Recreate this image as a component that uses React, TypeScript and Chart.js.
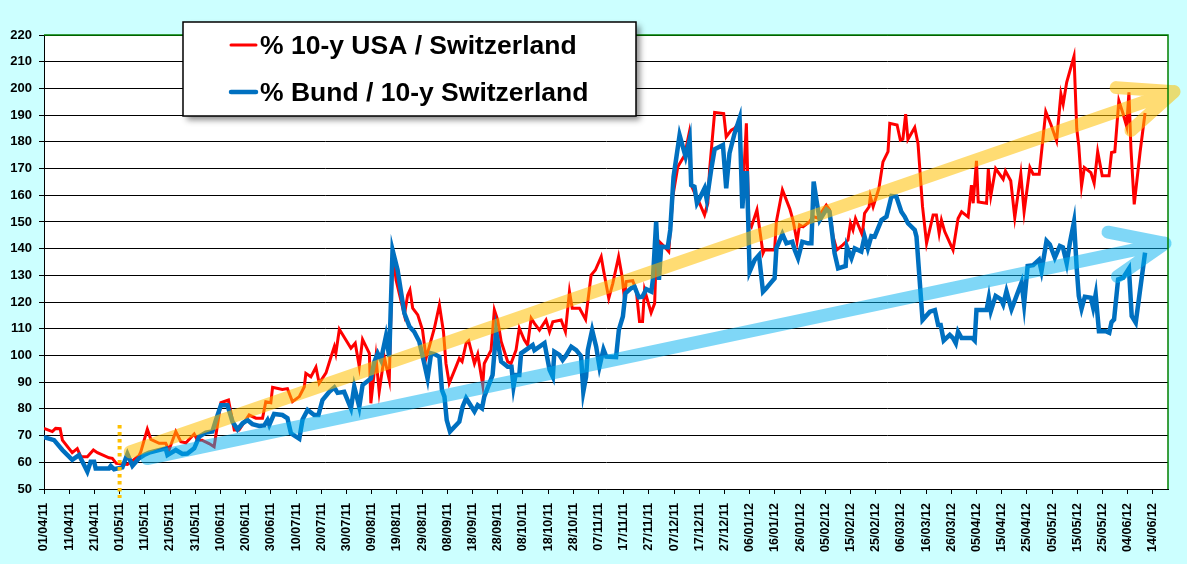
import { Chart, registerables } from "chart.js"
import React, { useEffect, useRef } from "react"

Chart.register(...registerables)

const seriesNames = ["% 10-y USA / Switzerland", "% Bund / 10-y Switzerland"]
const seriesColors = ["#ff0000", "#0070c0"]

// one label every 10 days, the axis runs on days counted from 01/04/11
const tickLabels = [
  "01/04/11", "11/04/11", "21/04/11", "01/05/11", "11/05/11", "21/05/11", "31/05/11", "10/06/11",
  "20/06/11", "30/06/11", "10/07/11", "20/07/11", "30/07/11", "09/08/11", "19/08/11", "29/08/11",
  "08/09/11", "18/09/11", "28/09/11", "08/10/11", "18/10/11", "28/10/11", "07/11/11", "17/11/11",
  "27/11/11", "07/12/11", "17/12/11", "27/12/11", "06/01/12", "16/01/12", "26/01/12", "05/02/12",
  "15/02/12", "25/02/12", "06/03/12", "16/03/12", "26/03/12", "05/04/12", "15/04/12", "25/04/12",
  "05/05/12", "15/05/12", "25/05/12", "04/06/12", "14/06/12",
]

// [day, spread in bp]
const usaSpread: [number, number][] = [
  [0, 72.7], [3.3, 71.5], [4.6, 72.7], [6.4, 72.6], [7.3, 68.3], [11.2, 63.6], [13.2, 65.1], [14.6, 62.1],
  [17.2, 62.1], [19.6, 64.6], [21.2, 63.6], [25.8, 61.7], [27.1, 61.5], [28.7, 59.6], [33.1, 59.2], [35, 60.5],
  [37.7, 62.5], [38.4, 63.9], [41, 72.4], [42.4, 68.6], [45.7, 67.1], [48.3, 67.1], [49.6, 64.6], [52.3, 71.5],
  [54.3, 67.7], [56.3, 67.3], [59.6, 70.6], [60.9, 68.3], [62.7, 68.3], [65.5, 67], [67.5, 65.8], [70.2, 82.3],
  [73.2, 83.3], [75.5, 72.1], [77.4, 72.1], [81.4, 77.7], [84.1, 76.5], [86.7, 76.5], [88, 82.7], [90, 82.3],
  [90.7, 88.1], [94.6, 87.3], [96.6, 87.6], [98.6, 82.7], [101.3, 84.6], [103.3, 88.3], [103.9, 93.3], [105.9, 92],
  [107.9, 95.6], [109.2, 89.6], [111.9, 93.5], [113.9, 99.5], [115.2, 103.3], [115.8, 100.8], [117.2, 109.8],
  [119.8, 105.8], [121.8, 102.7], [123.5, 104.6], [125.1, 95.8], [126.4, 106], [129.1, 100.8], [129.7, 82.1],
  [131.7, 99.5], [133, 86.4], [135, 99.5], [137, 90.8], [138.3, 139.5], [139.7, 128.3], [143, 115.2],
  [144.3, 122.6], [145.2, 124.5], [146.3, 117.7], [148.3, 115.2], [150.2, 109.5], [151.6, 99], [152.9, 103.3],
  [154.9, 110.2], [156.9, 118.9], [158.5, 108.9], [159.5, 97], [160.8, 89.6], [163.5, 95.8], [164.8, 98.9],
  [165.9, 97.7], [167.5, 104.6], [168.5, 105.5], [170.8, 97], [172.1, 100.5], [174.1, 88.9], [174.7, 97],
  [177.4, 102], [178.7, 117], [180, 113.3], [181.4, 105.2], [184, 97.7], [185.3, 97], [187.3, 102], [188.6, 110.2],
  [190.6, 105.8], [191.9, 103.9], [193.3, 113.9], [194.6, 112], [196.6, 109.5], [199.2, 113.3], [200.6, 108.9],
  [201.9, 112.6], [205.2, 113.3], [206.9, 108.9], [208.5, 123.9], [209.6, 117.7], [212.5, 117.7], [214.9, 113.5],
  [217.1, 130.1], [218.8, 132], [221.1, 137], [222, 132], [224.1, 121.4], [225.7, 127], [228, 137], [229.4, 129.5],
  [230.3, 121.4], [231, 127.7], [233.6, 128], [235, 124.5], [236.3, 112.7], [237.5, 112.7], [238.3, 124.5],
  [240.9, 116], [242.3, 119.5], [242.9, 136.4], [244.2, 142.6], [246.2, 140.7], [247.9, 138.9], [249.5, 159.5],
  [251.5, 170.7], [254.2, 175], [255.9, 182.8], [256.8, 163.8], [258.8, 159.5], [260.1, 157], [262.1, 152.6],
  [263.4, 157], [264.1, 169.4], [266.1, 191], [269.7, 190.6], [270.7, 181.9], [272.7, 184.4], [274, 185],
  [276, 187.5], [277.1, 157], [278.7, 186.9], [279.7, 149.5], [280.7, 148.2], [282.9, 154.5], [285.3, 138.3],
  [285.9, 139.5], [289.9, 139.5], [290.6, 150.1], [293, 162], [295.9, 155], [297.2, 150.7], [298.8, 142.6],
  [299.8, 148.9], [301.2, 148.2], [303.8, 150.1], [305.1, 152], [307, 151.5], [310.4, 156.3], [311.7, 154.5],
  [313.1, 144.5], [314.6, 139.5], [317, 141.4], [319, 143.2], [320, 149.5], [321, 147], [322, 151.3],
  [324.7, 145.1], [325.6, 153.2], [327.4, 155.7], [327.9, 159.5], [329, 155.7], [331.3, 162.6], [332.9, 172.5],
  [334.9, 176.3], [335.6, 186.9], [338.5, 186.3], [339.8, 180.6], [340.8, 181], [341.9, 190.4], [342.8, 180.9],
  [345.5, 185.4], [346.8, 179.4], [348.6, 155.7], [350.2, 142], [352.8, 152.6], [354.1, 152.6], [355.2, 145.7],
  [356.1, 150.7], [357.4, 146.4], [360.7, 139.5], [362.7, 151.3], [364.1, 153.8], [366.7, 151.9], [368, 163.8],
  [368.7, 157], [370, 172.9], [370.7, 157.5], [374, 157], [374.7, 169.8], [375.7, 159.8], [377.6, 170],
  [380.6, 166], [381.5, 169.1], [383.6, 165.4], [385.2, 151.6], [387.6, 167.9], [388.9, 153.8], [391.2, 170.4],
  [392.5, 167.9], [394.9, 167.9], [397.5, 191.3], [399.5, 186.6], [401.8, 180.4], [403.5, 197.9], [404.4, 194.1],
  [405.8, 202.3], [408.7, 212], [409.8, 184.8], [410.6, 178.5], [411.7, 163.5], [412.8, 170.4], [415.4, 168.5],
  [416.7, 164.5], [418.1, 176.3], [419.9, 167.3], [422.6, 167.3], [423.6, 176], [424.9, 176.3], [426.5, 195.4],
  [428.2, 190.4], [429.6, 185.8], [430.5, 198.5], [431.3, 177.3], [432.6, 156.6], [434.9, 176], [436.9, 190.8],
]

const bundSpread: [number, number][] = [
  [0, 69.4], [4, 68.3], [7.3, 64.6], [11.2, 60.9], [13.9, 62.7], [15.9, 59], [17.2, 56.5], [18.5, 60.2],
  [19.9, 60.2], [20.5, 57.7], [25.8, 57.7], [26.5, 58.6], [27.8, 57.4], [31.1, 58.1], [33.1, 63.1], [35.1, 58.7],
  [37.7, 61.5], [39.7, 62.7], [41.7, 63.6], [48.3, 65.2], [49, 62.7], [52.3, 64.6], [54.9, 63.1], [56.9, 63.3],
  [59.6, 65.2], [61.6, 69.6], [64.2, 71.1], [66.8, 71.5], [68.2, 75.8], [70.2, 81.4], [72.8, 81.4], [74.8, 75.2],
  [76.8, 72.3], [78.8, 74.6], [80.7, 75.8], [82.7, 74.3], [85.4, 73.6], [87.4, 73.8], [88.7, 75.8], [89.4, 74],
  [91.3, 78.1], [94.6, 77.7], [96.6, 76.5], [98, 70.8], [101.3, 68.8], [102.6, 76], [104.6, 79.6], [107.2, 77.7],
  [108.9, 77.7], [110.5, 83.3], [113.2, 86.4], [115.2, 88], [116.5, 86], [119.1, 86.4], [121.8, 80.2],
  [123.1, 88.3], [125.1, 80.8], [126.4, 88.9], [129.7, 91.4], [131.1, 97.7], [132.4, 100.8], [133.7, 98.3],
  [135.7, 107.3], [137, 99.5], [138.3, 139.5], [140.3, 132], [143, 115.8], [145, 110.8], [146.9, 108.9],
  [148.9, 105.2], [150.9, 97], [152.2, 91.4], [153.6, 100.8], [154.9, 100.5], [156.9, 99.5], [157.9, 87.1],
  [158.9, 84.6], [159.8, 75.8], [161.1, 71.5], [164.8, 75.2], [166.1, 80.8], [167.5, 84], [170.8, 79],
  [172.1, 81.4], [173.8, 80.2], [174.7, 84.6], [178, 92.7], [179.4, 108.9], [181.4, 97.7], [184, 95.8],
  [185.5, 95.8], [186.3, 88.3], [187.1, 92.7], [188.6, 92.7], [189.3, 100.8], [193.9, 103.9], [194.6, 102],
  [198.6, 104.6], [200.6, 94.6], [201.9, 92], [202.5, 101.4], [204.5, 100.2], [205.8, 98.3], [207.3, 100.2],
  [209.2, 103.3], [211.2, 102], [213.1, 99.8], [214, 86.4], [215.1, 92], [215.8, 102], [217.5, 109.5],
  [219.1, 103.3], [220.4, 95.8], [222, 102.3], [223.1, 99.6], [227, 99.4], [228.1, 109.6], [229.7, 114.6],
  [230.7, 123.3], [233, 125.2], [234.3, 125.8], [236, 121.8], [237.4, 122], [239, 124.8], [241, 123.9],
  [241.6, 128.3], [242.9, 150.1], [244, 128.3], [244.9, 140.7], [247.5, 140.5], [248.5, 147], [249.8, 166.9],
  [252.2, 182.5], [254.6, 174.4], [256.2, 180.9], [256.8, 163.8], [258.1, 163.2], [259.1, 157], [260.1, 158.8],
  [262.1, 162.6], [263, 158.2], [264.8, 170], [266.1, 177.2], [269.4, 178.8], [270.7, 162.6], [272, 175.7],
  [274, 183.1], [276, 188.8], [277.1, 155.1], [278, 168.2], [278.9, 168.2], [280, 131.4], [282, 135.8],
  [283.7, 137.6], [285.3, 123.9], [286.6, 125.2], [288.2, 127], [289.9, 128.9], [290.6, 140.1], [293, 145.5],
  [294.6, 142], [296.9, 142.6], [297.9, 139.5], [299.2, 136.4], [300.9, 142.6], [303.1, 142], [304.5, 142],
  [305.4, 165.1], [306.5, 158.2], [307.8, 150.7], [310.4, 154.7], [311.7, 153.8], [313.7, 138.3], [315.1, 132.6],
  [318.1, 133.5], [318.6, 140.7], [320.4, 136.4], [321.7, 140.1], [324.3, 138.9], [325.6, 144.5], [326.9, 140.1],
  [328.3, 144.7], [329.6, 144.5], [332.3, 150.7], [334.3, 152], [336.3, 159.7], [338.2, 159.5], [340.2, 153.8],
  [341.5, 152], [342.8, 149.5], [345.5, 147], [346.2, 144.5], [348.6, 113.3], [351.5, 116.4], [353.5, 117],
  [354.8, 111.4], [355.8, 111.4], [357, 105.6], [359.4, 107.7], [360.7, 106.5], [361.8, 104.6], [362.7, 108.9],
  [364.1, 106.5], [368.4, 106.5], [369.3, 105.6], [370, 117], [374, 117], [374.9, 121.6], [375.7, 116.6],
  [377.6, 122.3], [379.7, 121], [380.6, 119.1], [381.9, 124.1], [383.9, 117.3], [385.9, 122.3], [387.9, 127.3],
  [388.9, 119.1], [390.3, 133.5], [392.5, 133.8], [394.8, 135.8], [395.8, 131.6], [397.8, 142.9], [399.1, 141.6],
  [401.1, 136.6], [403.1, 141], [404.3, 140.5], [405.8, 134.5], [407.1, 142.3], [408.7, 150], [409.8, 132.3],
  [410.6, 122.3], [411.7, 117.5], [413, 122], [415.4, 121.6], [416.3, 117.9], [417.3, 122.9], [418.6, 109.1],
  [421.3, 109.1], [422.7, 108.5], [423.6, 112.5], [424.6, 113.5], [426.2, 128.5], [428.2, 129.1], [430.5, 132.5],
  [431.6, 114.8], [433.2, 112.3], [436.9, 138.5],
]

// trend arrows, [day, value] from -> to
const trendArrows = [
  { from: [34.2, 63.9], to: [448.4, 198.8], color: "rgba(255,192,0,0.55)" },
  { from: [40.9, 61.4], to: [444.8, 142], color: "rgba(0,176,240,0.5)" },
]
const markerDay = 30
const markerTop = 74

const dayOf = (label: string) => {
  const [d, m, y] = label.split("/").map(Number)
  return Math.round((Date.UTC(2000 + y, m - 1, d) - Date.UTC(2011, 3, 1)) / 86400000)
}
const labelByDay = new Map(tickLabels.map((l) => [dayOf(l), l]))

const font = "Arial, 'Liberation Sans', sans-serif"

const decorPlugin = {
  id: "decor",
  beforeDraw(chart: any) {
    const { ctx, chartArea: a } = chart
    ctx.save()
    ctx.fillStyle = "#ffffff"
    ctx.fillRect(a.left, a.top, a.right - a.left, a.bottom - a.top)
    ctx.restore()
  },
  afterDatasetsDraw(chart: any) {
    const { ctx, chartArea: a } = chart
    const xs = chart.scales.x
    const ys = chart.scales.y
    ctx.save()
    // dotted marker
    const mx = xs.getPixelForValue(markerDay)
    ctx.strokeStyle = "#ffc000"
    ctx.lineWidth = 4
    ctx.setLineDash([3.5, 3.5])
    ctx.beginPath()
    ctx.moveTo(mx, ys.getPixelForValue(markerTop))
    ctx.lineTo(mx, a.bottom + 9)
    ctx.stroke()
    ctx.setLineDash([])
    // arrows
    trendArrows.forEach((t) => {
      const x0 = xs.getPixelForValue(t.from[0])
      const y0 = ys.getPixelForValue(t.from[1])
      const x1 = xs.getPixelForValue(t.to[0])
      const y1 = ys.getPixelForValue(t.to[1])
      const ang = Math.atan2(y0 - y1, x0 - x1)
      const spread = (23 * Math.PI) / 180
      const len = 58
      ctx.strokeStyle = t.color
      ctx.lineWidth = 13
      ctx.lineCap = "round"
      ctx.lineJoin = "round"
      ctx.beginPath()
      ctx.moveTo(x0, y0)
      ctx.lineTo(x1, y1)
      ctx.moveTo(x1 + len * Math.cos(ang - spread), y1 + len * Math.sin(ang - spread))
      ctx.lineTo(x1, y1)
      ctx.lineTo(x1 + len * Math.cos(ang + spread), y1 + len * Math.sin(ang + spread))
      ctx.stroke()
    })
    ctx.restore()
  },
  afterDraw(chart: any) {
    const { ctx, chartArea: a } = chart
    ctx.save()
    // plot border top / right
    ctx.strokeStyle = "#008000"
    ctx.lineWidth = 1.5
    ctx.beginPath()
    ctx.moveTo(a.left, a.top)
    ctx.lineTo(a.right, a.top)
    ctx.lineTo(a.right, a.bottom)
    ctx.stroke()
    // legend box
    const bx = 183, by = 22, bw = 453, bh = 94
    ctx.shadowColor = "rgba(0,0,0,0.45)"
    ctx.shadowBlur = 6
    ctx.shadowOffsetX = 4
    ctx.shadowOffsetY = 4
    ctx.fillStyle = "#ffffff"
    ctx.fillRect(bx, by, bw, bh)
    ctx.shadowColor = "transparent"
    ctx.strokeStyle = "#000000"
    ctx.lineWidth = 1.5
    ctx.strokeRect(bx, by, bw, bh)
    seriesNames.forEach((name, i) => {
      const cy = 45 + i * 47
      ctx.strokeStyle = seriesColors[i]
      ctx.lineWidth = i === 0 ? 3 : 4.5
      ctx.lineCap = "round"
      ctx.beginPath()
      ctx.moveTo(231, cy)
      ctx.lineTo(256, cy)
      ctx.stroke()
      ctx.fillStyle = "#000000"
      ctx.font = `bold 26.5px ${font}`
      ctx.textBaseline = "alphabetic"
      ctx.fillText(name, 260, cy + 9)
    })
    ctx.restore()
  },
}

const App: React.FC = () => {
  const chartRef = useRef<HTMLCanvasElement>(null)
  const chartInstanceRef = useRef<Chart | null>(null)

  useEffect(() => {
    document.body.style.margin = "0"
    const ctx = chartRef.current?.getContext("2d")
    if (ctx) {
      chartInstanceRef.current = new Chart(ctx, {
        type: "line",
        data: {
          datasets: [
            {
              label: seriesNames[1],
              data: bundSpread.map(([x, y]) => ({ x, y })),
              borderColor: seriesColors[1],
              borderWidth: 4.5,
              pointRadius: 0,
              tension: 0,
              order: 1,
            },
            {
              label: seriesNames[0],
              data: usaSpread.map(([x, y]) => ({ x, y })),
              borderColor: seriesColors[0],
              borderWidth: 3,
              pointRadius: 0,
              tension: 0,
              order: 2,
            },
          ],
        },
        options: {
          animation: false,
          responsive: true,
          maintainAspectRatio: false,
          layout: { padding: { top: 35, right: 19, left: 0, bottom: 0 } },
          plugins: {
            legend: { display: false },
            tooltip: { enabled: false },
          },
          scales: {
            x: {
              type: "linear",
              min: 0,
              max: 446,
              afterBuildTicks: (s: any) => {
                s.ticks = tickLabels.map((l) => ({ value: dayOf(l) }))
              },
              afterFit: (s: any) => {
                s.height = 75
              },
              ticks: {
                autoSkip: false,
                minRotation: 90,
                maxRotation: 90,
                padding: 9,
                color: "#000",
                font: { family: font, size: 12.6, weight: "bold" },
                callback: (v: any) => labelByDay.get(Number(v)) ?? "",
              },
              grid: { drawOnChartArea: false, drawTicks: true, tickLength: 5, color: "#000" },
              border: { color: "#000", width: 1 },
            },
            y: {
              min: 50,
              max: 220,
              afterFit: (s: any) => {
                s.width = 44
              },
              ticks: {
                stepSize: 10,
                padding: 7,
                color: "#000",
                font: { family: font, size: 13, weight: "bold" },
              },
              grid: { color: "#000", tickLength: 5, lineWidth: 1 },
              border: { color: "#000", width: 1 },
            },
          },
        },
        plugins: [decorPlugin],
      })
    }
    return () => {
      chartInstanceRef.current?.destroy()
    }
  }, [])

  return (
    <div style={{ width: 1187, height: 564, background: "#ccffff", position: "relative" }}>
      <canvas ref={chartRef} />
    </div>
  )
}

export default App
